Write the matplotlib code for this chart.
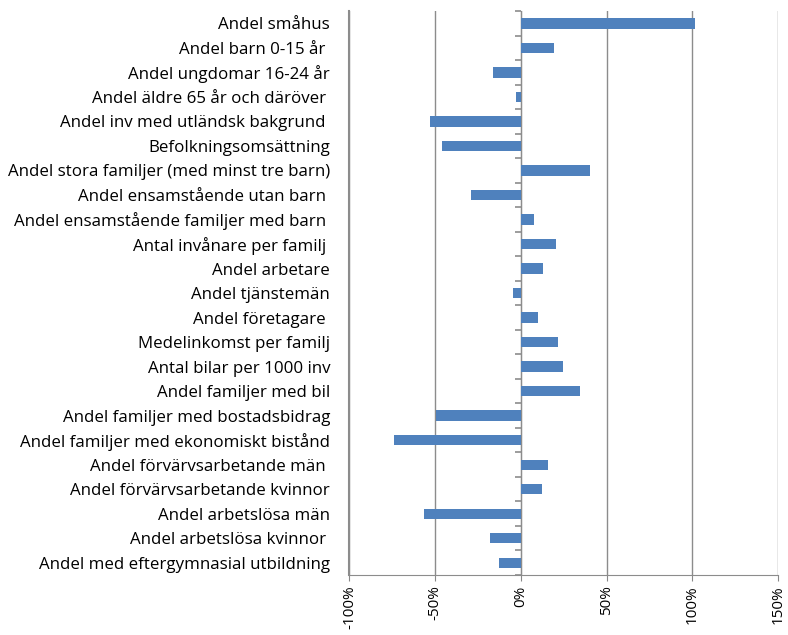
import matplotlib.pyplot as plt
import numpy as np

plt.rcParams['font.family'] = ['Open Sans', 'DejaVu Sans']

labels = ["Andel småhus", "Andel barn 0-15 år ", "Andel ungdomar 16-24 år",
          "Andel äldre 65 år och däröver ", "Andel inv med utländsk bakgrund ",
          "Befolkningsomsättning", "Andel stora familjer (med minst tre barn)",
          "Andel ensamstående utan barn ", "Andel ensamstående familjer med barn ",
          "Antal invånare per familj ", "Andel arbetare", "Andel tjänstemän",
          "Andel företagare ", "Medelinkomst per familj", "Antal bilar per 1000 inv",
          "Andel familjer med bil", "Andel familjer med bostadsbidrag",
          "Andel familjer med ekonomiskt bistånd", "Andel förvärvsarbetande män ",
          "Andel förvärvsarbetande kvinnor", "Andel arbetslösa män",
          "Andel arbetslösa kvinnor ", "Andel med eftergymnasial utbildning"]
values = [101.4, 19.5, -16.1, -2.7, -53.2, -45.8, 40.0, -29.3, 7.6, 20.2, 12.8,
          -4.7, 10.1, 21.6, 24.5, 34.2, -49.7, -74.2, 15.7, 12.5, -56.3, -18.1, -12.6]
xticks = [-100, -50, 0, 50, 100, 150]

fig = plt.figure(figsize=(7.88, 6.35), dpi=100)
ax = fig.add_axes([0.4435, 0.0945, 0.544, 0.888])

y = np.arange(len(labels))
ax.barh(y, values, height=0.42, color='#4f81bd', zorder=3)
ax.set_ylim(len(labels) - 0.5, -0.5)
ax.set_xlim(-100, 150)
ax.set_xticks(xticks)
ax.set_xticklabels([f"{t}%" for t in xticks], rotation=90, fontsize=11)
ax.tick_params(axis='x', length=4, color='#888888')
ax.xaxis.grid(True, color='#8c8c8c', lw=1)
for s in ['top', 'right']:
    ax.spines[s].set_visible(False)
ax.spines['bottom'].set_color('#8c8c8c')

# category axis drawn at 0 with ticks between categories
ax.spines['left'].set_position(('data', 0))
ax.spines['left'].set_color('#8c8c8c')
ax.set_yticks(np.arange(len(labels) + 1) - 0.5)
ax.set_yticklabels([])
ax.tick_params(axis='y', length=4, width=1.2, color='#8c8c8c')

# category labels on the left edge
lab = ax.twinx()
lab.set_ylim(ax.get_ylim())
lab.yaxis.tick_left()
lab.set_yticks(y)
lab.set_yticklabels(labels, fontsize=12.2)
lab.tick_params(axis='y', length=0, pad=14)
for s in ['top', 'right', 'bottom']:
    lab.spines[s].set_visible(False)
lab.spines['left'].set_color('#8c8c8c')
lab.spines['left'].set_linewidth(1.5)

fig.savefig('out.png', dpi=100)
